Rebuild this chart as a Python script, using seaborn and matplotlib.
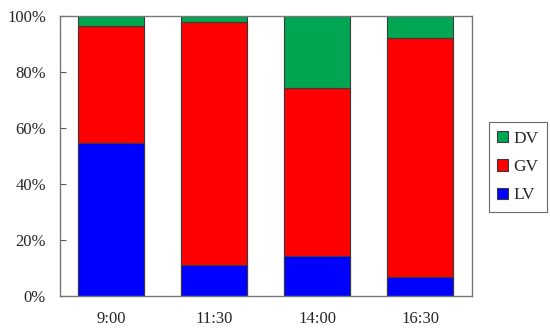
import numpy as np
import pandas as pd
import matplotlib.pyplot as plt
import seaborn as sns

sns.set_style('white')
plt.rcParams['font.family'] = ['Liberation Serif', 'DejaVu Serif']

times = ['9:00', '11:30', '14:00', '16:30']
lv = [54.6, 11.0, 14.3, 6.8]
gv = [41.8, 86.8, 60.0, 85.3]
dv = [3.6, 2.2, 25.7, 7.9]

df = pd.DataFrame({'time': times, 'LV': lv, 'GV': gv, 'DV': dv})
df['top_gv'] = df['LV'] + df['GV']
df['top_dv'] = df['top_gv'] + df['DV']

fig = plt.figure(figsize=(5.5, 3.3), dpi=100)
ax = fig.add_axes([0.109, 0.103, 0.749, 0.849])

edge = '#3a3a3a'
sns.barplot(x='time', y='top_dv', data=df, color='#00A651', width=0.64, saturation=1,
            edgecolor=edge, linewidth=0.8, label='DV', ax=ax)
sns.barplot(x='time', y='top_gv', data=df, color='#FF0000', width=0.64, saturation=1,
            edgecolor=edge, linewidth=0.8, label='GV', ax=ax)
sns.barplot(x='time', y='LV', data=df, color='#0000FF', width=0.64, saturation=1,
            edgecolor=edge, linewidth=0.8, label='LV', ax=ax)

ax.set_ylim(0, 100)
ax.set_xlim(-0.5, 3.5)
ax.set_yticks(np.arange(0, 101, 20))
ax.set_yticklabels([f'{v}%' for v in range(0, 101, 20)])
ax.set_xlabel('')
ax.set_ylabel('')
ax.tick_params(axis='y', left=True, direction='in', length=4, width=0.8,
               color='#555555', labelsize=12, pad=10)
ax.tick_params(axis='x', bottom=False, labelsize=12, pad=7)
for s in ax.spines.values():
    s.set_color('#777777')
    s.set_linewidth(1.0)

leg = ax.legend(loc='center left', bbox_to_anchor=(1.041, 0.46), frameon=True,
                fancybox=False, edgecolor='#444444', fontsize=12.5,
                handlelength=0.6, handleheight=0.6, handletextpad=0.3,
                labelspacing=0.7, borderpad=0.5, borderaxespad=0)
leg.get_frame().set_linewidth(0.8)

fig.savefig('out.png', dpi=100)
